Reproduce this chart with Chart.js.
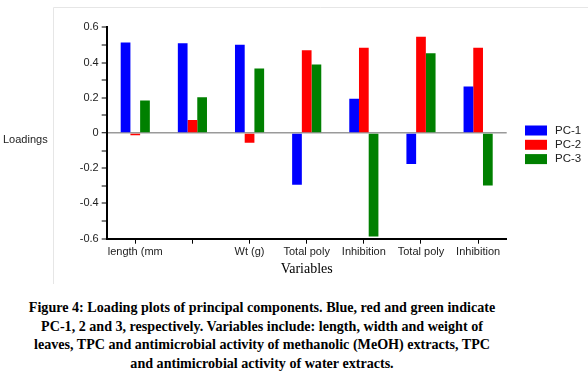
<!DOCTYPE html>
<html>
<head>
<meta charset="utf-8">
<script src="https://cdn.jsdelivr.net/npm/chart.js@4/dist/chart.umd.min.js"></script>
<style>
  body { margin: 0; background: #fff; }
  #wrap { position: relative; width: 588px; height: 376px; }
  #box { position: absolute; left: 0; top: 0; width: 588px; height: 290px; }
  #caption {
    position: absolute; left: 0; top: 298px; width: 524px;
    text-align: center; font-family: "Liberation Serif", "Times New Roman", serif;
    font-weight: bold; font-size: 14.1px; line-height: 18.5px; color: #000;
  }
</style>
</head>
<body>
<div id="wrap">
  <div id="box"><canvas id="myChart" width="588" height="290"></canvas></div>
  <div id="caption">Figure 4: Loading plots of principal components. Blue, red and green indicate<br>PC-1, 2 and 3, respectively. Variables include: length, width and weight of<br>leaves, TPC and antimicrobial activity of methanolic (MeOH) extracts, TPC<br>and antimicrobial activity of water extracts.</div>
</div>
<script>
const ctx = document.getElementById('myChart').getContext('2d');

const myLabels = ['length (mm', '', 'Wt (g)', 'Total poly', 'Inhibition', 'Total poly', 'Inhibition'];

const pc1 = [0.514, 0.51, 0.501, -0.294, 0.194, -0.176, 0.264];
const pc2 = [-0.013, 0.074, -0.055, 0.47, 0.484, 0.546, 0.484];
const pc3 = [0.184, 0.203, 0.366, 0.389, -0.588, 0.453, -0.298];

const seriesNames = ['PC-1', 'PC-2', 'PC-3'];
const seriesColors = ['#0000ff', '#ff0000', '#008000'];

const yMajor = [-0.6, -0.4, -0.2, 0, 0.2, 0.4, 0.6];
const yMinor = [-0.5, -0.3, -0.1, 0.1, 0.3, 0.5];

// faint frame, "Loadings" label and the legend on the right
const extras = {
    id: 'extras',
    beforeDraw(chart) {
        const c = chart.ctx;
        c.save();
        c.strokeStyle = '#e6e6e6';
        c.lineWidth = 1;
        c.beginPath();
        c.moveTo(53.5, 284);
        c.lineTo(53.5, 7.5);
        c.lineTo(588, 7.5);
        c.stroke();
        c.restore();
    },
    afterDraw(chart) {
        const c = chart.ctx;
        c.save();
        c.fillStyle = '#222';
        c.font = '11px "Liberation Sans", Arial, sans-serif';
        c.textBaseline = 'middle';
        c.textAlign = 'left';
        c.fillText('Loadings', 3, 140);

        chart.data.datasets.forEach((ds, i) => {
            const y = 130.5 + i * 14.3;
            c.fillStyle = ds.backgroundColor;
            c.fillRect(525, y - 5, 22, 10);
            c.fillStyle = '#222';
            c.font = '11.5px "Liberation Sans", Arial, sans-serif';
            c.fillText(ds.label, 555, y);
        });
        c.restore();
    }
};

const myChart = new Chart(ctx, {
    type: 'bar',
    data: {
        labels: myLabels,
        datasets: [pc1, pc2, pc3].map((d, i) => ({
            label: seriesNames[i],
            data: d,
            backgroundColor: seriesColors[i],
            borderWidth: 0,
            categoryPercentage: 0.51,
            barPercentage: 1.0
        }))
    },
    options: {
        responsive: false,
        animation: false,
        layout: { padding: { left: 0, right: 81.3, top: 27.3, bottom: 0 } },
        plugins: {
            legend: { display: false },
            tooltip: { enabled: false }
        },
        scales: {
            x: {
                afterFit: s => { s.height = 290 - 238.7; },
                border: { color: '#000', width: 2 },
                grid: { drawOnChartArea: false, offset: false, tickLength: 5, tickColor: '#000', tickWidth: 1 },
                ticks: {
                    color: '#222',
                    padding: 2,
                    maxRotation: 0,
                    autoSkip: false,
                    font: { family: '"Liberation Sans", Arial, sans-serif', size: 11 }
                },
                title: {
                    display: true,
                    text: 'Variables',
                    color: '#000',
                    font: { family: '"Liberation Serif", "Times New Roman", serif', size: 14 },
                    padding: { top: 4, bottom: 12 }
                }
            },
            y: {
                min: -0.6,
                max: 0.6,
                afterFit: s => { s.width = 106.7; },
                afterBuildTicks: s => {
                    s.ticks = yMajor.concat(yMinor).sort((a, b) => a - b).map(v => ({ value: v }));
                },
                border: { color: '#000', width: 2 },
                grid: {
                    drawOnChartArea: true,
                    tickLength: 5,
                    tickColor: '#000',
                    tickWidth: 1,
                    color: c => (c.tick && c.tick.value === 0) ? '#9a9a9a' : 'rgba(0,0,0,0)',
                    lineWidth: c => (c.tick && c.tick.value === 0) ? 1.5 : 0
                },
                ticks: {
                    color: '#222',
                    padding: 3,
                    font: { family: '"Liberation Sans", Arial, sans-serif', size: 11 },
                    callback: v => yMajor.includes(v) ? String(v) : ''
                }
            }
        }
    },
    plugins: [extras]
});
</script>
</body>
</html>
